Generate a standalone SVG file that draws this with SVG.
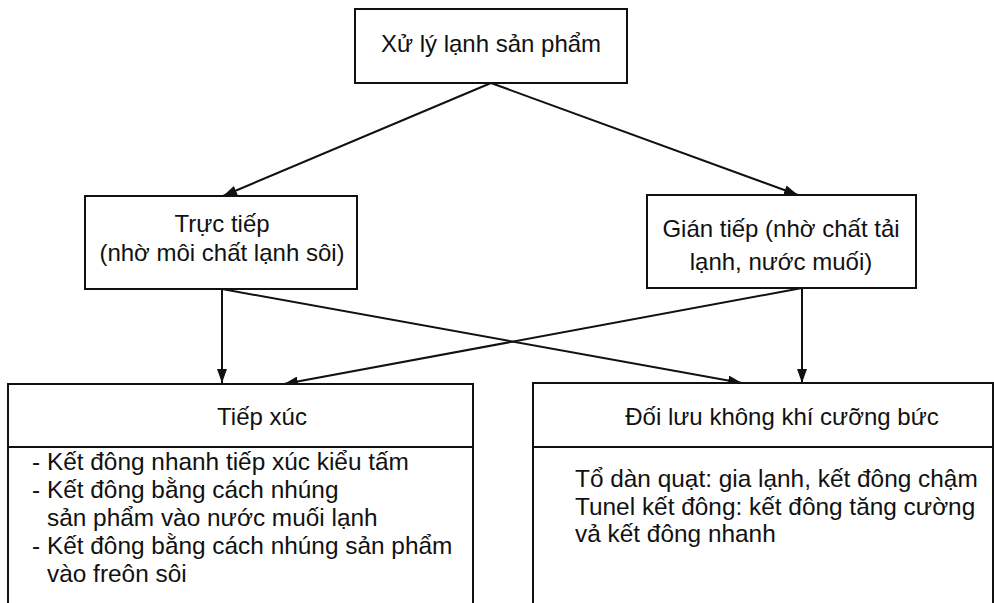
<svg xmlns="http://www.w3.org/2000/svg" width="994" height="603" viewBox="0 0 994 603">
<defs>
<marker id="arr" viewBox="0 0 14 10" refX="14" refY="5" markerWidth="14" markerHeight="10" markerUnits="userSpaceOnUse" orient="auto">
<path d="M0,0 L14,5 L0,10 Z" fill="#111"/>
</marker>
<style>
.box{fill:#fff;stroke:#111;stroke-width:2}
.t{font-family:"Liberation Sans",Arial,sans-serif;font-size:24px;fill:#111}
.l{font-size:24.4px}
.c{text-anchor:middle}
.ln{stroke:#111;stroke-width:2;fill:none;marker-end:url(#arr)}
</style>
</defs>
<rect width="994" height="603" fill="#fff"/>
<g id="connectors">
<line class="ln" x1="491" y1="83" x2="223" y2="196"/>
<line class="ln" x1="491" y1="83" x2="798" y2="195"/>
<line class="ln" x1="222" y1="289" x2="222" y2="383"/>
<line class="ln" x1="222" y1="289" x2="742" y2="383"/>
<line class="ln" x1="802" y1="288" x2="802" y2="383"/>
<line class="ln" x1="802" y1="288" x2="284" y2="384"/>
</g>
<g id="root">
<rect class="box" x="355" y="9" width="272" height="74"/>
<text class="t c" x="491" y="52">Xử lý lạnh sản phẩm</text>
</g>
<g id="direct">
<rect class="box" x="85" y="196" width="272" height="93"/>
<text class="t c" x="222" y="232">Trực tiếp</text>
<text class="t c" x="222" y="261">(nhờ môi chất lạnh sôi)</text>
</g>
<g id="indirect">
<rect class="box" x="647" y="195" width="269" height="93"/>
<text class="t c" x="781" y="237">Gián tiếp (nhờ chất tải</text>
<text class="t c" x="781" y="270">lạnh, nước muối)</text>
</g>
<g id="contact">
<path class="box" d="M8,610 V384 H473 V610"/>
<line x1="8" y1="447" x2="473" y2="447" stroke="#111" stroke-width="2"/>
<text class="t c" x="262" y="425">Tiếp xúc</text>
<text class="t l" x="32" y="470">- Kết đông nhanh tiếp xúc kiểu tấm</text>
<text class="t l" x="32" y="498">- Kết đông bằng cách nhúng</text>
<text class="t l" x="47" y="526">sản phẩm vào nước muối lạnh</text>
<text class="t l" x="32" y="554">- Kết đông bằng cách nhúng sản phẩm</text>
<text class="t l" x="47" y="582">vào freôn sôi</text>
</g>
<g id="forced-air">
<path class="box" d="M533,610 V383 H993 V610"/>
<line x1="533" y1="447" x2="993" y2="447" stroke="#111" stroke-width="2"/>
<text class="t c" x="782" y="425">Đối lưu không khí cưỡng bức</text>
<text class="t l" x="575" y="487">Tổ dàn quạt: gia lạnh, kết đông chậm</text>
<text class="t l" x="575" y="515">Tunel kết đông: kết đông tăng cường</text>
<text class="t l" x="575" y="542">vả kết đông nhanh</text>
</g>
</svg>
